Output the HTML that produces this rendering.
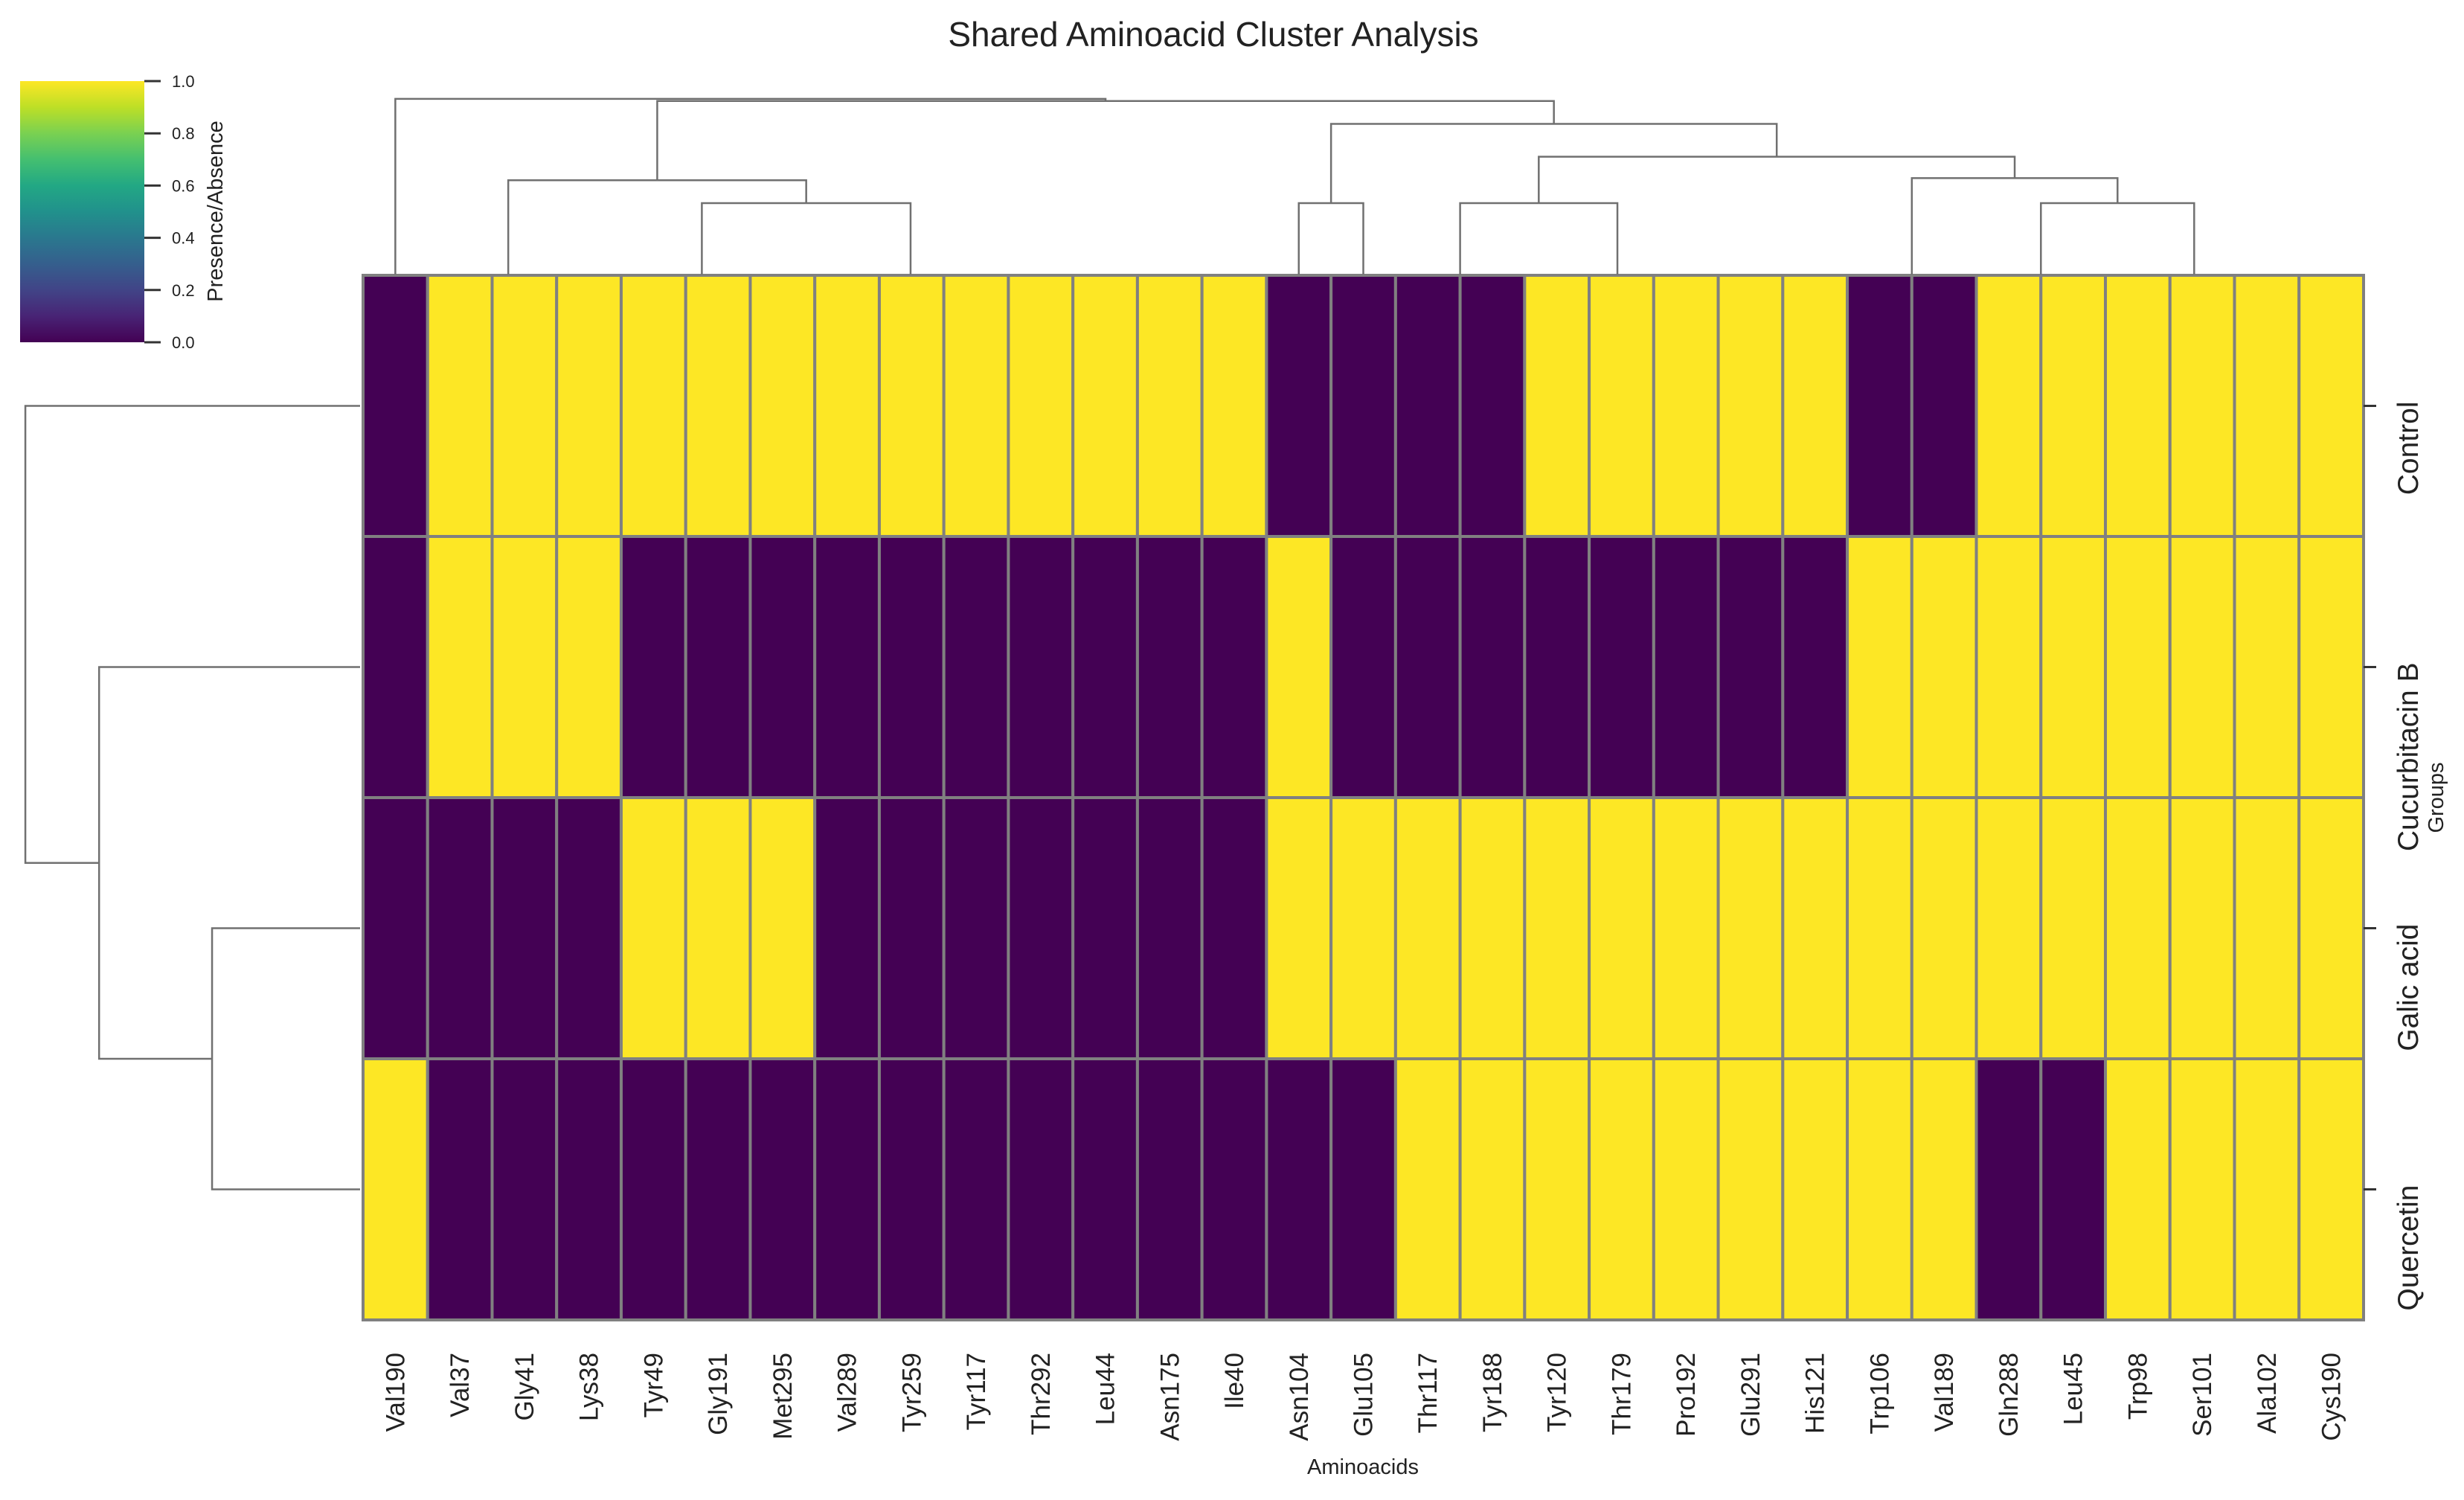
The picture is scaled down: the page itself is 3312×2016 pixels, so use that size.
<!DOCTYPE html>
<html><head><meta charset="utf-8"><style>
html,body{margin:0;padding:0;background:#fff;}
svg{display:block;font-family:"Liberation Sans",Arial,sans-serif;}
</style></head><body>
<svg id="chart" width="3312" height="2016" viewBox="0 0 3312 2016" xmlns="http://www.w3.org/2000/svg">
<defs>
<linearGradient id="viridis" x1="0" y1="1" x2="0" y2="0">
<stop offset="0" stop-color="#440154"/><stop offset="0.1" stop-color="#482475"/><stop offset="0.2" stop-color="#414487"/><stop offset="0.3" stop-color="#355f8d"/><stop offset="0.4" stop-color="#2a788e"/><stop offset="0.5" stop-color="#21918c"/><stop offset="0.6" stop-color="#22a884"/><stop offset="0.7" stop-color="#44bf70"/><stop offset="0.8" stop-color="#7ad151"/><stop offset="0.9" stop-color="#bddf26"/><stop offset="1" stop-color="#fde725"/>
</linearGradient>
</defs>
<text x="1631" y="62" font-size="46" text-anchor="middle" fill="#222">Shared Aminoacid Cluster Analysis</text>
<g id="colorbar">
<rect x="27" y="109" width="167" height="351" fill="url(#viridis)"/>
</g>
<text transform="translate(299,284) rotate(-90)" font-size="29" text-anchor="middle" fill="#222">Presence/Absence</text>
<g id="heat"></g>
<g id="dendTop"></g>
<g id="dendLeft"></g>
<g id="labels"></g>
<text x="1832" y="1981" font-size="29" text-anchor="middle" fill="#222">Aminoacids</text>
<text transform="translate(3284,1072) rotate(-90)" font-size="29" text-anchor="middle" fill="#222">Groups</text>
</svg>
<script>
const columns = ["Val190","Val37","Gly41","Lys38","Tyr49","Gly191","Met295","Val289","Tyr259","Tyr117","Thr292","Leu44","Asn175","Ile40","Asn104","Glu105","Thr117","Tyr188","Tyr120","Thr179","Pro192","Glu291","His121","Trp106","Val189","Gln288","Leu45","Trp98","Ser101","Ala102","Cys190"];
const groups = ["Control","Cucurbitacin B","Galic acid","Quercetin"];
const controlRow =      [0,1,1,1,1,1,1,1,1,1,1,1,1,1,0,0,0,0,1,1,1,1,1,0,0,1,1,1,1,1,1];
const cucurbitacinRow = [0,1,1,1,0,0,0,0,0,0,0,0,0,0,1,0,0,0,0,0,0,0,0,1,1,1,1,1,1,1,1];
const galicRow =        [0,0,0,0,1,1,1,0,0,0,0,0,0,0,1,1,1,1,1,1,1,1,1,1,1,1,1,1,1,1,1];
const quercetinRow =    [1,0,0,0,0,0,0,0,0,0,0,0,0,0,0,0,1,1,1,1,1,1,1,1,1,0,0,1,1,1,1];
const colorbarTicks = [0.0,0.2,0.4,0.6,0.8,1.0];
// column linkage: [childA, childB, height]; leaves 0..30, new nodes 31..
const colMerges = [
 [2,3,0],[1,31,0],[5,6,0],[4,33,0],
 [12,13,0],[11,35,0],[10,36,0],[9,37,0],[8,38,0],[7,39,0],
 [34,40,1.0],[32,41,1.32],
 [14,15,1.0],[16,17,0],
 [21,22,0],[20,45,0],[19,46,0],[18,47,0],[44,48,1.0],
 [23,24,0],[25,26,0],
 [29,30,0],[28,52,0],[27,53,0],[51,54,1.0],[50,55,1.35],[49,56,1.65],[43,57,2.11],
 [42,58,2.43],[0,59,2.46]
];
// row linkage
const rowMerges = [[2,3,2.83],[1,4,4.99],[0,5,6.4]];
</script>
<script>
(function(){
const NS="http://www.w3.org/2000/svg";
const rows=[controlRow,cucurbitacinRow,galicRow,quercetinRow];
const X0=488,X1=3177,Y0=370,Y1=1774;
const cw=(X1-X0)/columns.length, rh=(Y1-Y0)/groups.length;
const xScale=i=>X0+cw*i, yScale=j=>Y0+rh*j;
function mk(tag,attrs,parent){const e=document.createElementNS(NS,tag);for(const k in attrs)e.setAttribute(k,attrs[k]);parent.appendChild(e);return e;}
const heat=document.getElementById('heat');
rows.forEach((r,j)=>r.forEach((v,i)=>{
 const c=mk('rect',{x:xScale(i),y:yScale(j),width:cw,height:rh,fill:v?'#fde725':'#440154',stroke:'#808080','stroke-width':4},heat);
 
 
}));
const lab=document.getElementById('labels');
columns.forEach((n,i)=>{
 const cx=xScale(i+0.5);
 const t=mk('text',{transform:`translate(${cx+12},1818) rotate(-90)`,'font-size':35,'text-anchor':'end',fill:'#222'},lab);
 t.textContent=n;
 
 
});
groups.forEach((g,j)=>{
 const cy=yScale(j+0.5);
 const tk=mk('line',{x1:X1,x2:X1+17,y1:cy,y2:cy,stroke:'#333','stroke-width':3},lab);
 
 
 const t=mk('text',{transform:`translate(${3250},${cy-6}) rotate(-90)`,'font-size':39,'text-anchor':'end',fill:'#222'},lab);
 t.textContent=g;
 
 
});
const cb=document.getElementById('colorbar');
const cbY=v=>460-v*351;
colorbarTicks.forEach(v=>{
 const l=mk('line',{x1:194,x2:216,y1:cbY(v),y2:cbY(v),stroke:'#333','stroke-width':3},cb);
 
 
 const t=mk('text',{x:231,y:cbY(v)+8,'font-size':22,fill:'#222'},cb);
 t.textContent=v.toFixed(1);
 
 
});
const dt=document.getElementById('dendTop');
const topY=h=>369-h*96;
const pos=columns.map((c,i)=>xScale(i+0.5)), ht=columns.map(()=>0);
colMerges.forEach(([a,b,h])=>{
 const xa=pos[a],xb=pos[b],y=topY(h);
 if(h>0){
  const p=mk('path',{d:`M${xa},${topY(ht[a])}V${y}H${xb}V${topY(ht[b])}`,fill:'none',stroke:'#707070','stroke-width':2.5},dt);
  
  
 }
 pos.push((xa+xb)/2);ht.push(h);
});
const dl=document.getElementById('dendLeft');
const leftX=h=>484-h*70.3;
const rp=groups.map((g,j)=>yScale(j+0.5)), rhh=groups.map(()=>0);
rowMerges.forEach(([a,b,h])=>{
 const ya=rp[a],yb=rp[b],x=leftX(h);
 const p=mk('path',{d:`M${leftX(rhh[a])},${ya}H${x}V${yb}H${leftX(rhh[b])}`,fill:'none',stroke:'#707070','stroke-width':2.5},dl);
 
 
 rp.push((ya+yb)/2);rhh.push(h);
});
})();
</script>
</body></html>
